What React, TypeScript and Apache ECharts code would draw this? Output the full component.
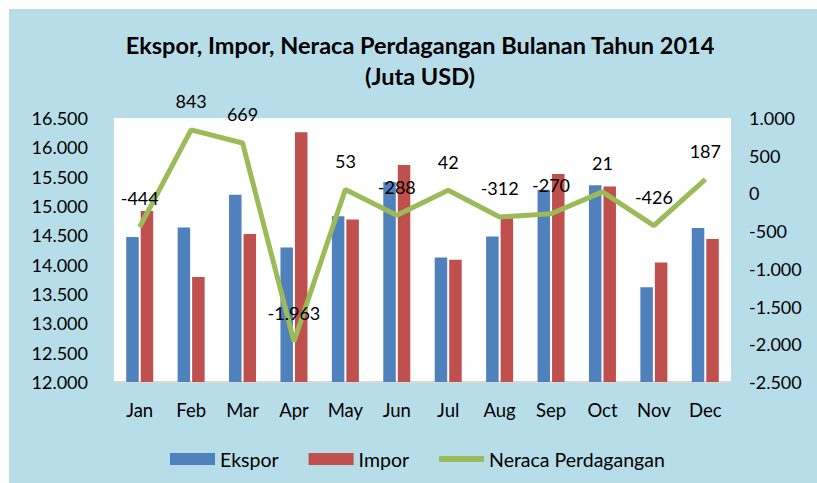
import React, { useEffect, useRef } from "react";
import * as echarts from "echarts";

const months = ["Jan", "Feb", "Mar", "Apr", "May", "Jun", "Jul", "Aug", "Sep", "Oct", "Nov", "Dec"];
const ekspor = [14472, 14634, 15193, 14292, 14824, 15409, 14124, 14482, 15276, 15355, 13613, 14624];
const impor = [14916, 13791, 14524, 16255, 14771, 15697, 14082, 14794, 15546, 15334, 14039, 14437];
const neraca = [-444, 843, 669, -1963, 53, -288, 42, -312, -270, 21, -426, 187];

const titleText = "Ekspor, Impor, Neraca Perdagangan Bulanan Tahun 2014\n(Juta USD)";
const FONT = "Lato, 'Noto Sans', sans-serif";

function fmt(v: number): string {
  const s = Math.abs(Math.round(v)).toString().replace(/\B(?=(\d{3})+(?!\d))/g, ".");
  return (v < 0 ? "-" : "") + s;
}

export default function App() {
  const ref = useRef<HTMLDivElement>(null);
  useEffect(() => {
    if (!ref.current) return;
    const chart = echarts.init(ref.current, null, { renderer: "svg" });
    chart.setOption({
      animation: false,
      backgroundColor: "#ffffff",
      textStyle: { fontFamily: FONT },
      graphic: [
        {
          type: "rect",
          left: 9,
          top: 9,
          shape: { width: 808, height: 474 },
          style: { fill: "#B7DEE8" },
          z: -10,
          silent: true,
        },
      ],
      title: {
        text: titleText,
        left: 415,
        top: 24,
        textAlign: "center",
        textStyle: {
          fontFamily: FONT,
          fontSize: 23.5,
          fontWeight: "bold",
          color: "#000",
          lineHeight: 31,
        },
      },
      legend: {
        left: 170,
        top: 449,
        padding: 0,
        itemWidth: 45,
        itemHeight: 12,
        itemGap: 30,
        symbolKeepAspect: true,
        textStyle: { fontFamily: FONT, fontSize: 19.5, color: "#000" },
        data: [
          { name: "Ekspor", icon: "rect" },
          { name: "Impor", icon: "rect" },
          { name: "Neraca Perdagangan", icon: "path://M0,0 L45,0 L45,6 L0,6 Z" },
        ],
      },
      grid: {
        left: 114,
        right: 86,
        top: 118,
        bottom: 101,
        show: true,
        backgroundColor: "#ffffff",
        borderWidth: 0,
      },
      xAxis: {
        type: "category",
        data: months,
        axisTick: { show: false },
        axisLine: { show: true, onZero: false, lineStyle: { color: "#D9D9D9", width: 2 } },
        axisLabel: { color: "#000", fontSize: 18.5, fontFamily: FONT, margin: 18 },
      },
      yAxis: [
        {
          type: "value",
          min: 12000,
          max: 16500,
          interval: 500,
          splitLine: { show: false },
          axisLine: { show: false },
          axisTick: { show: false },
          axisLabel: { color: "#000", fontSize: 18, fontFamily: FONT, margin: 26, formatter: (v: number) => fmt(v) },
        },
        {
          type: "value",
          min: -2500,
          max: 1000,
          interval: 500,
          splitLine: { show: false },
          axisLine: { show: false },
          axisTick: { show: false },
          axisLabel: { color: "#000", fontSize: 18, fontFamily: FONT, margin: 18, formatter: (v: number) => fmt(v) },
        },
      ],
      series: [
        {
          name: "Ekspor",
          type: "bar",
          data: ekspor,
          barWidth: 12.5,
          barGap: "16%",
          itemStyle: { color: "#4F81BD" },
        },
        {
          name: "Impor",
          type: "bar",
          data: impor,
          barWidth: 12.5,
          itemStyle: { color: "#C0504D" },
        },
        {
          name: "Neraca Perdagangan",
          type: "line",
          yAxisIndex: 1,
          data: neraca,
          symbol: "circle",
          symbolSize: 1,
          showSymbol: true,
          lineStyle: { color: "#9BBB59", width: 5 },
          itemStyle: { color: "#9BBB59" },
          z: 5,
          label: {
            show: true,
            position: "top",
            distance: 19,
            fontSize: 18,
            fontFamily: FONT,
            color: "#000",
            formatter: (p: any) => fmt(p.value),
          },
        },
      ],
    });
    return () => chart.dispose();
  }, []);
  return (
    <div
      ref={ref}
      style={{ position: "fixed", left: 0, top: 0, width: 817, height: 483 }}
    />
  );
}
